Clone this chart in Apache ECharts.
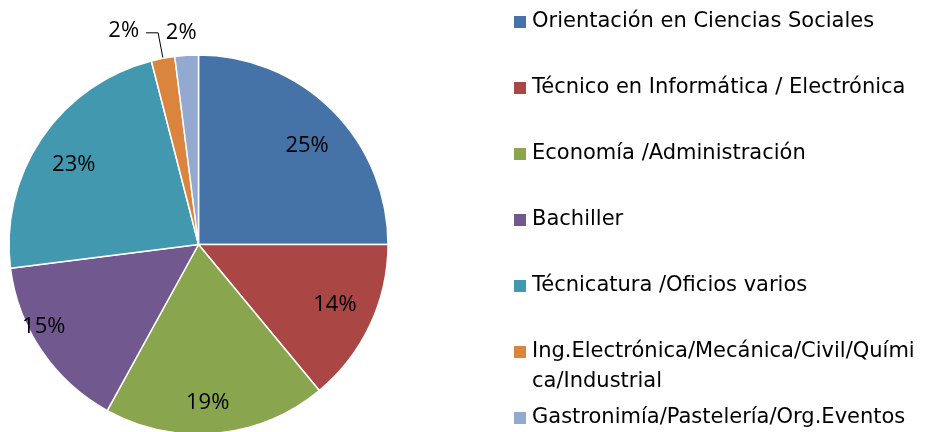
<!DOCTYPE html>
<html>
<head>
<meta charset="utf-8">
<script src="https://cdn.jsdelivr.net/npm/echarts@6/dist/echarts.min.js"></script>
<style>
  html, body { margin: 0; padding: 0; background: #fff; }
  #chart { width: 939px; height: 432px; }
</style>
</head>
<body>
<div id="chart"></div>
<script>
const categories = [
  "Orientación en Ciencias Sociales",
  "Técnico en Informática / Electrónica",
  "Economía /Administración",
  "Bachiller",
  "Técnicatura /Oficios varios",
  "Ing.Electrónica/Mecánica/Civil/Química/Industrial",
  "Gastronimía/Pastelería/Org.Eventos"
];
const values = [25, 14, 19, 15, 23, 2, 2];
const colors = ["#4572A7", "#AA4643", "#89A54E", "#71588F", "#4198AF", "#DB843D", "#93A9CF"];

const FONT = "Open Sans";
const LEGEND_FONT = "DejaVu Sans";
const cx = 198.5, cy = 244.5, R = 189.5;

const chart = echarts.init(document.getElementById("chart"));

// one legend per item so the wrapped label keeps the excel spacing
const legendCenters = [22, 88, 154, 220, 286, 352, 418];
const legends = categories.map((name, i) => {
  const wrapped = i === 5;
  return {
    show: true,
    data: [name],
    left: 512,
    top: wrapped ? legendCenters[i] - 45 : legendCenters[i] - 15,
    padding: 0,
    itemWidth: 14,
    itemHeight: 14,
    icon: "rect",
    selectedMode: false,
    // leading blank line keeps the marker next to the first text line
    formatter: wrapped ? () => " \nIng.Electrónica/Mecánica/Civil/Quími\nca/Industrial" : "{name}",
    textStyle: {
      fontFamily: LEGEND_FONT,
      fontSize: 21,
      color: "#000",
      lineHeight: 30
    }
  };
});

const pieData = categories.map((name, i) => {
  const item = { name: name, value: values[i], itemStyle: { color: colors[i] } };
  if (i === 5) {
    item.label = { show: true, position: "outside", offset: [-2, -2] };
    item.labelLine = { show: true, length: 26, length2: 12, lineStyle: { color: "#000", width: 1 } };
  } else if (i === 6) {
    item.label = { show: true, position: "outside", offset: [16, -7] };
    item.labelLine = { show: false, length: 16, length2: 0 };
  } else {
    item.label = { show: false };
  }
  return item;
});

// transparent ring used only to place the inner percentage labels
const ringData = categories.map((name, i) => {
  const item = { name: name, value: values[i] };
  if (i >= 5) item.label = { show: false };
  if (i === 0) item.label = { offset: [2, 8] };
  if (i === 3) item.label = { offset: [-30, -3] };
  if (i === 2) item.label = { offset: [-5, 8] };
  if (i === 1) item.label = { offset: [0, -4] };
  if (i === 4) item.label = { offset: [0, 5] };
  return item;
});

const option = {
  animation: false,
  backgroundColor: "#fff",
  legend: legends,
  series: [
    {
      name: "main",
      type: "pie",
      center: [cx, cy],
      radius: R,
      startAngle: 90,
      clockwise: true,
      avoidLabelOverlap: false,
      silent: true,
      itemStyle: { borderColor: "#fff", borderWidth: 1.5 },
      label: {
        formatter: "{d}%",
        fontFamily: FONT,
        fontSize: 22,
        color: "#000"
      },
      data: pieData
    },
    {
      name: "labels",
      type: "pie",
      center: [cx, cy],
      radius: [R * 0.56, R],
      startAngle: 90,
      clockwise: true,
      silent: true,
      avoidLabelOverlap: false,
      itemStyle: { color: "rgba(0,0,0,0)" },
      label: {
        show: true,
        position: "inside",
        formatter: "{d}%",
        fontFamily: FONT,
        fontSize: 22,
        color: "#000"
      },
      labelLine: { show: false },
      data: ringData
    }
  ]
};

chart.setOption(option);
</script>
</body>
</html>
